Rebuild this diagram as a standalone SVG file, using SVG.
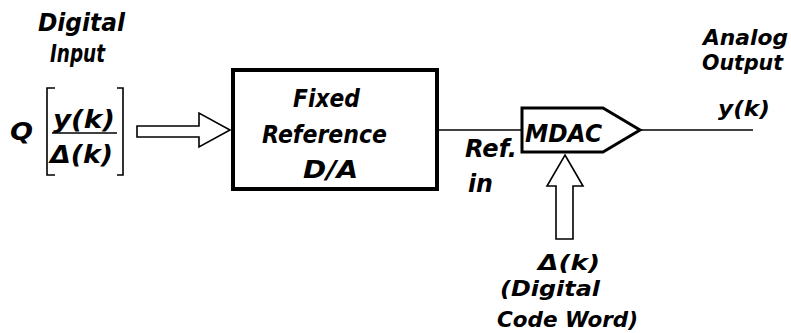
<svg xmlns="http://www.w3.org/2000/svg" width="791" height="333" viewBox="0 0 791 333">
<style>
text{font-family:"DejaVu Sans","Liberation Sans",sans-serif;font-style:italic;font-weight:bold;fill:#000;font-size:25px}
.sm{font-size:22px}
.ln{stroke:#000;fill:none;stroke-width:1.6}
.hollow{stroke:#000;fill:#fff;stroke-width:1.6;stroke-linejoin:miter}
</style>
<rect width="791" height="333" fill="#fff"/>
<g id="input">
<text x="38" y="31" textLength="87" lengthAdjust="spacingAndGlyphs">Digital</text>
<text x="50" y="62" textLength="55" lengthAdjust="spacingAndGlyphs">Input</text>
<text x="10" y="140" textLength="23" lengthAdjust="spacingAndGlyphs">Q</text>
<path class="ln" d="M55,88 H47 V175 H55 M117,88 H123 V175 H117" stroke-width="2.4"/>
<text x="53" y="128" textLength="62" lengthAdjust="spacingAndGlyphs">y(k)</text>
<line class="ln" x1="52" y1="133" x2="117" y2="133" stroke-width="2.2"/>
<text x="50" y="163" textLength="63" lengthAdjust="spacingAndGlyphs">Δ(k)</text>
</g>
<g id="dac">
<rect x="233" y="70" width="204" height="119" fill="#fff" stroke="#000" stroke-width="4"/>
<text x="293" y="107" textLength="67" lengthAdjust="spacingAndGlyphs">Fixed</text>
<text x="262" y="143" textLength="125" lengthAdjust="spacingAndGlyphs">Reference</text>
<text x="303" y="178" textLength="55" lengthAdjust="spacingAndGlyphs">D/A</text>
</g>
<g id="mdac">
<path d="M522,108 H603 L640,130 L603,152 H522 Z" fill="#fff" stroke="#000" stroke-width="3"/>
<text x="525" y="142" font-size="29" textLength="77" lengthAdjust="spacingAndGlyphs">MDAC</text>
</g>
<g id="labels">
<text x="465" y="157" textLength="52" lengthAdjust="spacingAndGlyphs">Ref.</text>
<text x="468" y="192" textLength="25" lengthAdjust="spacingAndGlyphs">in</text>
<text class="sm" x="703" y="45" textLength="85" lengthAdjust="spacingAndGlyphs">Analog</text>
<text class="sm" x="702" y="70" textLength="81" lengthAdjust="spacingAndGlyphs">Output</text>
<text class="sm" x="718" y="116" textLength="52" lengthAdjust="spacingAndGlyphs">y(k)</text>
<text class="sm" x="538" y="270" textLength="62" lengthAdjust="spacingAndGlyphs">Δ(k)</text>
<text class="sm" x="500" y="296" textLength="100" lengthAdjust="spacingAndGlyphs">(Digital</text>
<text class="sm" x="497" y="327" textLength="141" lengthAdjust="spacingAndGlyphs">Code Word)</text>
</g>
<g id="connectors">
<path class="hollow" d="M137,126 H199 V113 L230,130 L199,147 V137 H137 Z"/>
<line class="ln" x1="437" y1="130" x2="522" y2="130"/>
<line class="ln" x1="640" y1="130" x2="753" y2="130"/>
<path class="hollow" d="M565,155 L583,186 H573 V239 H556 V186 H547 Z"/>
</g>
</svg>
